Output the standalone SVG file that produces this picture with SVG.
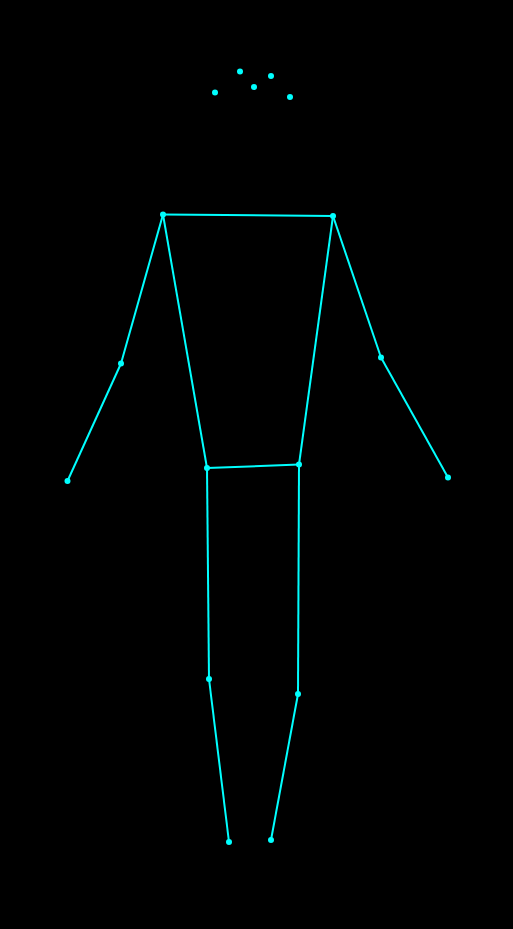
<svg xmlns="http://www.w3.org/2000/svg" width="513" height="929" viewBox="0 0 513 929">
<style>
.l{stroke:#00ffff;stroke-width:2;fill:none}
.d{fill:#00ffff}
</style>
<rect width="513" height="929" fill="#000"/>
<g id="connectors">
<line class="l" x1="163" y1="214.5" x2="333" y2="216"/>
<line class="l" x1="163" y1="214.5" x2="121" y2="363.5"/>
<line class="l" x1="121" y1="363.5" x2="67.5" y2="481"/>
<line class="l" x1="333" y1="216" x2="381" y2="357.5"/>
<line class="l" x1="381" y1="357.5" x2="448" y2="477.5"/>
<line class="l" x1="163" y1="214.5" x2="207" y2="468"/>
<line class="l" x1="333" y1="216" x2="299" y2="464.5"/>
<line class="l" x1="207" y1="468" x2="299" y2="464.5"/>
<line class="l" x1="207" y1="468" x2="209" y2="679"/>
<line class="l" x1="209" y1="679" x2="229" y2="842"/>
<line class="l" x1="299" y1="464.5" x2="298" y2="694"/>
<line class="l" x1="298" y1="694" x2="271" y2="840"/>
</g>
<g id="nose"><circle class="d" cx="254" cy="87" r="3"/></g>
<g id="eye-l"><circle class="d" cx="240" cy="71.5" r="3"/></g>
<g id="eye-r"><circle class="d" cx="271" cy="76" r="3"/></g>
<g id="ear-l"><circle class="d" cx="215" cy="92.5" r="3"/></g>
<g id="ear-r"><circle class="d" cx="290" cy="97" r="3"/></g>
<g id="shoulder-l"><circle class="d" cx="163" cy="214.5" r="3"/></g>
<g id="shoulder-r"><circle class="d" cx="333" cy="216" r="3"/></g>
<g id="elbow-l"><circle class="d" cx="121" cy="363.5" r="3"/></g>
<g id="elbow-r"><circle class="d" cx="381" cy="357.5" r="3"/></g>
<g id="wrist-l"><circle class="d" cx="67.5" cy="481" r="3"/></g>
<g id="wrist-r"><circle class="d" cx="448" cy="477.5" r="3"/></g>
<g id="hip-l"><circle class="d" cx="207" cy="468" r="3"/></g>
<g id="hip-r"><circle class="d" cx="299" cy="464.5" r="3"/></g>
<g id="knee-l"><circle class="d" cx="209" cy="679" r="3"/></g>
<g id="knee-r"><circle class="d" cx="298" cy="694" r="3"/></g>
<g id="ankle-l"><circle class="d" cx="229" cy="842" r="3"/></g>
<g id="ankle-r"><circle class="d" cx="271" cy="840" r="3"/></g>
</svg>
